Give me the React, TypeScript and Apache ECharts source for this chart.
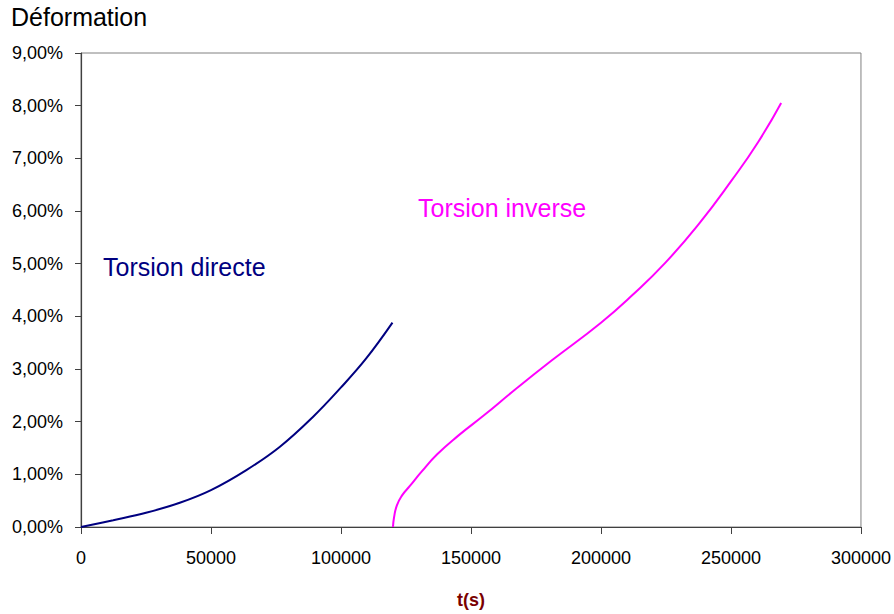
import React, { useEffect, useRef } from "react";
import * as echarts from "echarts";

const xTicks = [0, 50000, 100000, 150000, 200000, 250000, 300000];
const yTicks = [0, 1, 2, 3, 4, 5, 6, 7, 8, 9];

const directeX = [0, 12400, 25000, 38000, 50000, 63600, 76400, 89200, 100000, 109700, 119800];
const directeY = [0, 0.13, 0.27, 0.46, 0.7, 1.08, 1.52, 2.09, 2.65, 3.2, 3.88];

const inverseX = [120000, 120400, 121500, 123500, 126500, 131000, 137000, 145000, 155000, 167000, 181000, 200000, 212000, 224800, 237600, 250400, 260600, 269300];
const inverseY = [0, 0.18, 0.41, 0.6, 0.78, 1.05, 1.38, 1.73, 2.12, 2.61, 3.16, 3.88, 4.4, 5.02, 5.75, 6.59, 7.32, 8.05];

const FONT = "'Liberation Sans', Arial, Helvetica, sans-serif";

export default function App() {
  const ref = useRef<HTMLDivElement>(null);
  useEffect(() => {
    if (!ref.current) return;
    const chart = echarts.init(ref.current, null, { renderer: "svg" });
    const directe = directeX.map((x, i) => [x, directeY[i]]);
    const inverse = inverseX.map((x, i) => [x, inverseY[i]]);
    chart.setOption({
      animation: false,
      backgroundColor: "#ffffff",
      textStyle: { fontFamily: FONT },
      grid: {
        left: 81,
        right: 31,
        top: 53,
        bottom: 87,
        show: true,
        borderColor: "#808080",
        borderWidth: 1,
        backgroundColor: "transparent",
      },
      xAxis: {
        type: "value",
        min: xTicks[0],
        max: xTicks[xTicks.length - 1],
        interval: 50000,
        name: "t(s)",
        nameLocation: "middle",
        nameGap: 64,
        nameTextStyle: { color: "#7a0000", fontSize: 18, fontWeight: "bold", fontFamily: FONT },
        axisLine: { show: true, lineStyle: { color: "#404040", width: 1.2 } },
        axisTick: { show: true, inside: false, length: 7, lineStyle: { color: "#404040" } },
        axisLabel: {
          color: "#000",
          fontSize: 18,
          margin: 22,
          fontFamily: FONT,
          formatter: (v: number) => String(v),
        },
        splitLine: { show: false },
      },
      yAxis: {
        type: "value",
        min: yTicks[0],
        max: yTicks[yTicks.length - 1],
        interval: 1,
        axisLine: { show: true, lineStyle: { color: "#404040", width: 1.2 } },
        axisTick: { show: true, inside: false, length: 6, lineStyle: { color: "#404040" } },
        axisLabel: {
          color: "#000",
          fontSize: 18,
          margin: 18,
          fontFamily: FONT,
          formatter: (v: number) => v.toFixed(2).replace(".", ",") + "%",
        },
        splitLine: { show: false },
      },
      series: [
        {
          name: "Torsion directe",
          type: "line",
          data: directe,
          smooth: 0.4,
          showSymbol: false,
          lineStyle: { color: "#000080", width: 2 },
        },
        {
          name: "Torsion inverse",
          type: "line",
          data: inverse,
          smooth: 0.5,
          showSymbol: false,
          lineStyle: { color: "#ff00ff", width: 2 },
        },
      ],
      graphic: [
        {
          type: "text",
          left: 11,
          top: 4,
          style: { text: "Déformation", fill: "#000", fontSize: 25, fontFamily: FONT },
        },
        {
          type: "text",
          x: 103,
          y: 267,
          style: { text: "Torsion directe", fill: "#000080", fontSize: 25, fontFamily: FONT, verticalAlign: "middle" },
        },
        {
          type: "text",
          x: 418,
          y: 208,
          style: { text: "Torsion inverse", fill: "#ff00ff", fontSize: 25, fontFamily: FONT, verticalAlign: "middle" },
        },
      ],
    });
    return () => chart.dispose();
  }, []);
  return (
    <div
      ref={ref}
      style={{ position: "fixed", left: 0, top: 0, width: 894, height: 614, background: "#fff" }}
    />
  );
}
